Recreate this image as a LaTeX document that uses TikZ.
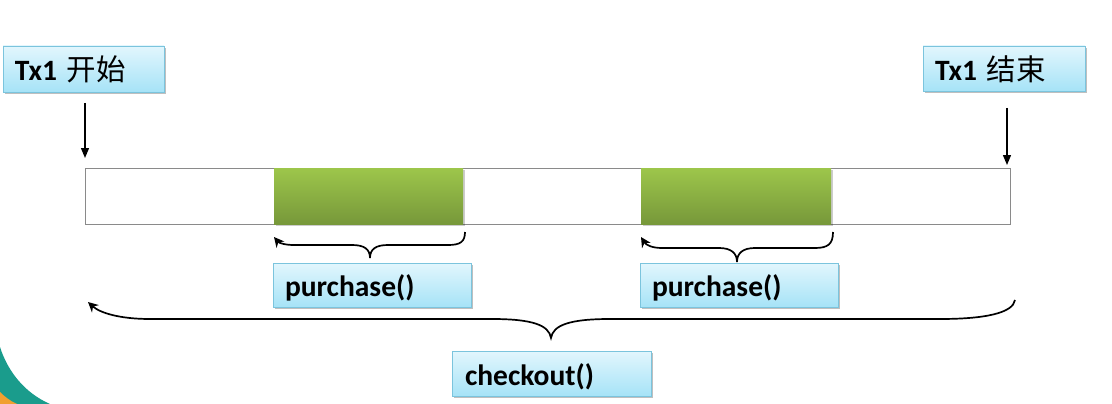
\documentclass[tikz,border=0pt]{standalone}
\usepackage{fontspec}
\setmainfont{Carlito}
\newfontfamily\cjk{Noto Sans CJK SC}
\usetikzlibrary{arrows.meta,shadows}
\definecolor{bluetop}{HTML}{E2F6FD}
\definecolor{bluebot}{HTML}{A6E3F7}
\definecolor{blueline}{HTML}{7BC4DD}
\definecolor{greentop}{HTML}{9DC64B}
\definecolor{greenbot}{HTML}{77983A}
\definecolor{barline}{HTML}{8A8A8A}
\definecolor{tealc}{HTML}{1A9C8C}
\definecolor{orangec}{HTML}{F0A030}
\tikzset{
  bluebox/.style={draw=blueline, line width=0.8pt, top color=bluetop, bottom color=bluebot,
    drop shadow={shadow xshift=1.5pt, shadow yshift=-2pt, opacity=0.25, fill=black},
    font=\fontsize{29.5}{31}\selectfont\bfseries, text=black, inner ysep=0pt, align=left,
    text height=25.5pt, text depth=2pt},
  greenbox/.style={draw=none, top color=greentop, bottom color=greenbot, inner sep=0pt,
    drop shadow={shadow xshift=1.5pt, shadow yshift=-2pt, opacity=0.2, fill=black}},
  arr/.style={line width=1.3pt, -{Triangle[length=10pt,width=8pt]}},
  bracepath/.style={line width=1.7pt, -{Stealth[length=10pt,width=10pt]}}
}
\begin{document}
\begin{tikzpicture}[x=1pt,y=-1pt]
\useasboundingbox (0,0) rectangle (1112,404);
% decorative corner
\fill[tealc] (0,347) .. controls (8,372) and (25,393) .. (50,404) -- (0,404) -- cycle;
\fill[orangec] (0,392) .. controls (4,396) and (10,401) .. (17,404) -- (0,404) -- cycle;

% boxes
\node[bluebox, text width=137pt, inner xsep=12pt, minimum height=46pt] (tx1s) at (83.5,69) {Tx1 {\cjk\mdseries 开始}};
\node[bluebox, text width=138pt, inner xsep=12pt, minimum height=45pt] (tx1e) at (1004,68.5) {Tx1 {\cjk\mdseries 结束}};

\node[draw=barline, line width=0.8pt, minimum width=925pt, minimum height=56pt, inner sep=0pt] (bar) at (547.5,196) {};
\node[greenbox, minimum width=189pt, minimum height=56pt] (g1) at (368.5,196) {};
\node[greenbox, minimum width=190pt, minimum height=56pt] (g2) at (736,196) {};

\node[bluebox, text width=174pt, inner xsep=12pt, minimum height=44pt] (p1) at (372,285) {purchase()};
\node[bluebox, text width=174pt, inner xsep=12pt, minimum height=44pt] (p2) at (739,285) {purchase()};
\node[bluebox, text width=173pt, inner xsep=13pt, minimum height=45pt] (co) at (551.5,373.5) {checkout()};

% vertical arrows
\coordinate (sA) at (85,103);
\coordinate (sB) at (85,158);
\coordinate (eA) at (1007,108);
\coordinate (eB) at (1007,165);
\draw[arr] (sA) -- (sB);
\draw[arr] (eA) -- (eB);

% brace 1
\coordinate (b1r) at (465,232);
\coordinate (b1t) at (370,258);
\coordinate (b1l) at (274,237);
\draw[bracepath] (b1r) .. controls (465,242) and (460,245) .. (448,245) -- (388,245)
  .. controls (376,245) and (370,249) .. (b1t)
  .. controls (370,249) and (364,245) .. (352,245) -- (294,245)
  .. controls (285,245) and (279,243) .. (b1l);

% brace 2
\coordinate (b2r) at (833,232);
\coordinate (b2t) at (737,262);
\coordinate (b2l) at (641,237);
\draw[bracepath] (b2r) .. controls (833,244) and (828,248) .. (815,248) -- (755,248)
  .. controls (743,248) and (737,253) .. (b2t)
  .. controls (737,253) and (731,248) .. (719,248) -- (662,248)
  .. controls (652,248) and (646,245) .. (b2l);

% big brace
\coordinate (bbr) at (1015,300);
\coordinate (bbt) at (551,338);
\coordinate (bbl) at (88,302);
\draw[bracepath] (bbr) .. controls (1013,313) and (985,319) .. (940,319) -- (610,319)
  .. controls (570,319) and (553,325) .. (bbt)
  .. controls (549,325) and (532,319) .. (492,319) -- (150,319)
  .. controls (120,319) and (100,313) .. (bbl);
\end{tikzpicture}
\end{document}
